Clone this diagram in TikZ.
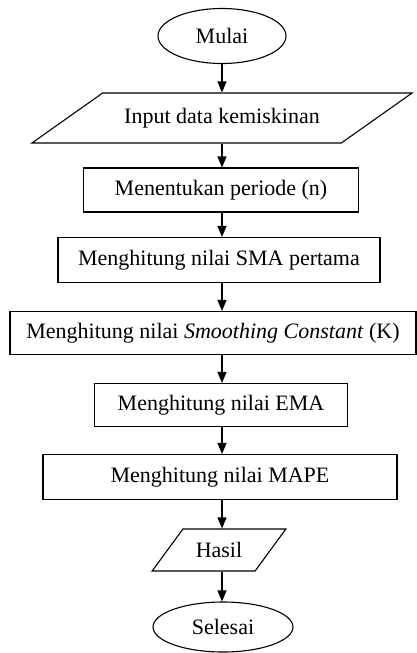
\documentclass[tikz,border=0pt]{standalone}
\usepackage{fontspec}
\setmainfont{Liberation Serif}
\usetikzlibrary{shapes.geometric,arrows.meta}

\begin{document}
\begin{tikzpicture}[x=1pt,y=-1pt,
    font=\fontsize{22}{26}\selectfont,
    terminal/.style={draw,ellipse,line width=1.1pt,inner sep=0pt},
    process/.style={draw,rectangle,line width=1.1pt,inner sep=0pt},
    io/.style={draw,trapezium,trapezium left angle=#1,trapezium right angle=180-#1,
        trapezium stretches=true,line width=1.1pt,inner sep=0pt},
    flow/.style={-{Triangle[length=11pt,width=9pt]},line width=1.1pt}]

\useasboundingbox (0,0) rectangle (417,653);

% Start / end
\node[terminal,minimum width=128,minimum height=55] (mulai) at (222,36) {Mulai};
\node[terminal,minimum width=140,minimum height=50] (selesai) at (223,627) {Selesai};

% Input and output
\node[io=19,minimum width=381,minimum height=50] (input) at (222,118) {Input data kemiskinan};
\node[io=38,minimum width=134,minimum height=42] (hasil) at (219,550) {Hasil};

% Process steps
\node[process,minimum width=275,minimum height=44] (periode) at (221,190) {Menentukan periode (n)};
\node[process,minimum width=322,minimum height=45] (sma) at (219,260) {Menghitung nilai SMA pertama};
\node[process,minimum width=406,minimum height=43] (smooth) at (213,333) {Menghitung nilai \textit{Smoothing Constant} (K)};
\node[process,minimum width=253,minimum height=43] (ema) at (221,405) {Menghitung nilai EMA};
\node[process,minimum width=354,minimum height=45] (mape) at (220,477) {Menghitung nilai MAPE};

% Arrows
\foreach \a/\b in {mulai/input,input/periode,periode/sma,sma/smooth,smooth/ema,ema/mape,mape/hasil,hasil/selesai} {
    \draw[flow] (\a.south -| mulai) -- (\b.north -| mulai);
}

\end{tikzpicture}
\end{document}
